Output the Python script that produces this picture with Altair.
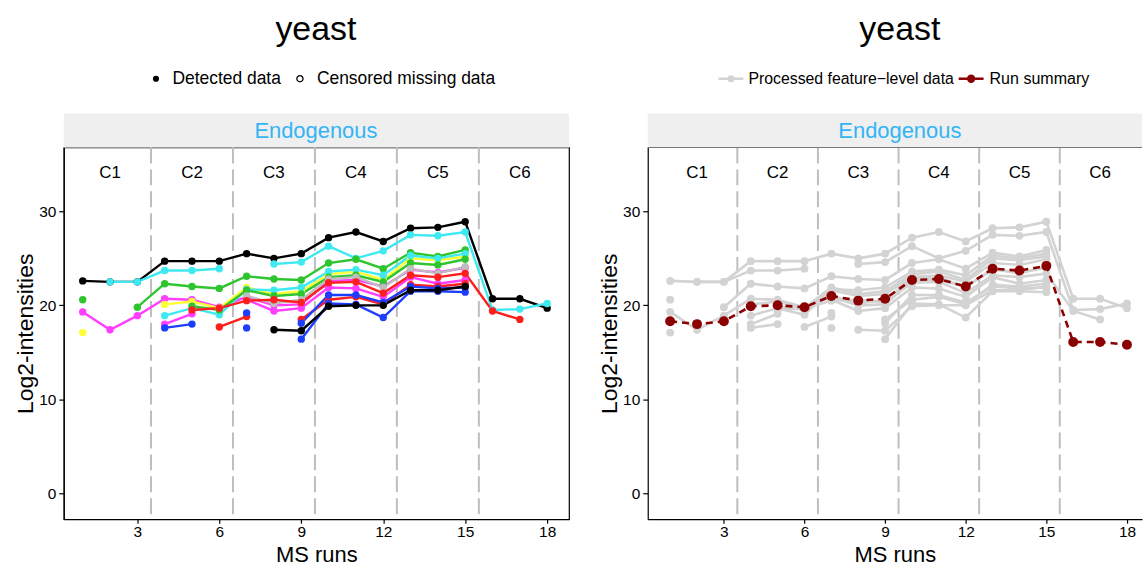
import altair as alt
import pandas as pd

FONT = "Liberation Sans"
N = None
runs = list(range(1, 19))

# feature-level log2 intensities per run (None = not observed)
f_black1 = [22.6, 22.5, 22.5, 24.7, 24.7, 24.7, 25.5, 25.0, 25.5, 27.2, 27.8, 26.8, 28.2, 28.3, 28.9, 20.7, 20.7, 19.7]
f_cyan1 = [N, 22.5, 22.5, 23.7, 23.7, 23.9, N, 24.4, 24.6, 26.3, 25.0, 25.8, 27.5, 27.4, 27.8, 19.5, 19.6, 20.2]
f_green1 = [20.6, N, 19.8, 22.3, 22.0, 21.8, 23.1, 22.8, 22.7, 24.5, 24.9, 23.9, 25.6, 25.2, 25.9, N, N, N]
f_magenta1 = [19.3, 17.4, 18.9, 20.7, 20.6, 19.8, 20.9, 20.0, 20.1, 22.6, 22.7, 22.0, 23.8, 23.5, 24.0, N, N, N]
f_yellow1 = [17.1, N, N, 20.1, 20.4, 19.7, 21.9, 21.2, 21.5, 23.3, 23.6, 22.7, 25.0, 24.8, 25.2, N, N, N]
f_cyan2 = [N, N, N, 18.9, 19.7, 19.0, 21.7, 21.6, 21.9, 23.6, 23.8, 23.2, 25.3, 25.0, 25.5, N, N, N]
f_magenta2 = [N, N, N, 18.0, 19.1, N, 20.6, 19.4, 19.7, 21.9, 21.8, 20.9, 23.0, 22.3, 22.7, N, N, N]
f_green2 = [N, N, N, N, 19.9, 19.5, 21.6, 21.0, 21.2, 23.0, 23.2, 22.5, 24.5, 24.3, 24.9, N, N, N]
f_grey1 = [N, N, N, N, N, N, 21.0, 20.2, 20.6, 22.8, 23.0, 21.9, 23.9, 23.4, 24.1, N, N, N]
f_red1 = [N, N, N, N, 19.5, 19.7, 20.5, 20.6, 20.3, 22.4, 22.5, 21.3, 23.2, 23.0, 23.4, 19.4, 18.5, N]
f_red2 = [N, N, N, N, N, 17.7, 18.8, N, 18.5, 20.6, 20.9, 20.1, 22.2, 22.0, 22.3, N, N, N]
f_blue1 = [N, N, N, 17.6, 18.0, N, 19.2, N, 18.1, 21.1, 21.1, 20.3, 22.0, 21.8, 21.9, N, N, N]
f_blue2 = [N, N, N, N, N, N, 17.6, N, 16.4, 20.2, 20.1, 18.7, 21.5, 21.5, 21.4, N, N, N]
f_black2 = [N, N, N, N, N, N, N, 17.4, 17.3, 19.9, 20.0, 20.0, 21.6, 21.6, 22.0, N, N, N]

feature_names = ["F01", "F02", "F03", "F04", "F05", "F06", "F07", "F08", "F09", "F10", "F11", "F12", "F13", "F14"]
feature_series = [f_black1, f_cyan1, f_green1, f_magenta1, f_yellow1, f_cyan2, f_magenta2,
                  f_green2, f_grey1, f_red1, f_red2, f_blue1, f_blue2, f_black2]
feature_colors = ["#000000", "#3FE9F1", "#2FC52F", "#FF3EFF", "#FFFF33", "#3FE9F1", "#FF3EFF",
                  "#2FC52F", "#BEBEBE", "#FF1E1E", "#FF1E1E", "#1E3EFF", "#1E3EFF", "#000000"]

run_summary = [18.3, 18.0, 18.3, 19.9, 20.0, 19.8, 21.0, 20.5, 20.7, 22.7, 22.8, 22.0, 23.9, 23.7, 24.2, 16.1, 16.1, 15.8]

conditions = ["C1", "C2", "C3", "C4", "C5", "C6"]
condition_centers = [2, 5, 8, 11, 14, 17]
condition_bounds = [3.5, 6.5, 9.5, 12.5, 15.5]
x_ticks = [3, 6, 9, 12, 15, 18]
y_ticks = [0, 10, 20, 30]

rows = []
for name, vals in zip(feature_names, feature_series):
    seg, prev = 0, False
    for r, v in zip(runs, vals):
        if v is None:
            if prev:
                seg += 1
            prev = False
            continue
        rows.append({"feature": name, "seg": f"{name}_{seg}", "run": r, "value": v})
        prev = True
feat_df = pd.DataFrame(rows)
sum_df = pd.DataFrame({"run": runs, "value": run_summary})
cond_df = pd.DataFrame({"cond": conditions, "run": condition_centers})
bound_df = pd.DataFrame({"run": condition_bounds})

H = 373
YDOM = [-2.76, 36.8]


def txt(s, x, y, size, color="black", align="left", baseline="middle"):
    return alt.Chart(pd.DataFrame({"t": [s]})).mark_text(
        font=FONT, fontSize=size, color=color, align=align, baseline=baseline
    ).encode(text="t:N", x=alt.value(x), y=alt.value(y))


def one():
    return alt.Chart(pd.DataFrame({"t": [""]}))


def panel(W, xdom, kind):
    xs = alt.Scale(domain=xdom, nice=False, zero=False)
    ys = alt.Scale(domain=YDOM, nice=False, zero=False)
    ax = alt.Axis(values=x_ticks, title="MS runs", grid=False, tickSize=4, tickColor="black",
                  tickWidth=1.2, labelFontSize=15.5, labelColor="black", labelFont=FONT,
                  titleFont=FONT, titleFontSize=22, titleFontWeight="normal", titleColor="black",
                  titlePadding=5, labelPadding=1, domainColor="black", domainWidth=1.2)
    ay = alt.Axis(values=y_ticks, title="Log2-intensities", grid=False, tickSize=5, tickColor="black",
                  tickWidth=1.2, labelFontSize=15.5, labelColor="black", labelFont=FONT,
                  titleFont=FONT, titleFontSize=23, titleFontWeight="normal", titleColor="black",
                  titlePadding=1, labelPadding=3, domainColor="black", domainWidth=1.2)
    X = alt.X("run:Q", scale=xs, axis=ax)
    Y = alt.Y("value:Q", scale=ys, axis=ay)

    layers = []
    layers.append(alt.Chart(bound_df).mark_rule(color="#BEBEBE", strokeWidth=2, strokeDash=[16, 6]).encode(x=X))
    layers.append(alt.Chart(cond_df).mark_text(font=FONT, fontSize=17, color="black", baseline="middle").encode(
        x=X, y=alt.value(26), text="cond:N"))

    if kind == "left":
        col = alt.Color("feature:N", scale=alt.Scale(domain=feature_names, range=feature_colors), legend=None)
        layers.append(alt.Chart(feat_df).mark_line(strokeWidth=2.4).encode(x=X, y=Y, color=col, detail="seg:N"))
        layers.append(alt.Chart(feat_df).mark_circle(size=55, opacity=1).encode(x=X, y=Y, color=col))
        # legend
        layers.append(one().mark_point(shape="circle", filled=True, color="black", size=38, opacity=1).encode(
            x=alt.value(92.5), y=alt.value(-69)))
        layers.append(txt("Detected data", 109, -69, 17.5))
        layers.append(one().mark_point(shape="circle", filled=False, color="black", strokeWidth=1.3, size=38,
                                       opacity=1).encode(x=alt.value(237), y=alt.value(-69)))
        layers.append(txt("Censored missing data", 254, -69, 17.5))
    else:
        layers.append(alt.Chart(feat_df).mark_line(color="#D3D3D3", strokeWidth=2.6).encode(x=X, y=Y, detail="seg:N"))
        layers.append(alt.Chart(feat_df).mark_circle(color="#D3D3D3", size=62, opacity=1).encode(x=X, y=Y))
        layers.append(alt.Chart(sum_df).mark_line(color="#8B0000", strokeWidth=2.6, strokeDash=[7, 5]).encode(x=X, y=Y))
        layers.append(alt.Chart(sum_df).mark_circle(color="#8B0000", size=100, opacity=1).encode(x=X, y=Y))
        # legend
        layers.append(one().mark_rule(color="#D3D3D3", strokeWidth=2.5).encode(
            x=alt.value(71), x2=alt.value(96), y=alt.value(-69)))
        layers.append(one().mark_circle(color="#D3D3D3", size=50, opacity=1).encode(x=alt.value(83.5), y=alt.value(-69)))
        layers.append(txt("Processed feature\u2212level data", 101, -69, 15.9))
        layers.append(one().mark_rule(color="#8B0000", strokeWidth=2.5).encode(
            x=alt.value(312), x2=alt.value(337), y=alt.value(-69)))
        layers.append(one().mark_circle(color="#8B0000", size=70, opacity=1).encode(x=alt.value(324.5), y=alt.value(-69)))
        layers.append(txt("Run summary", 343, -69, 16.1))
        layers.append(one().mark_rule(color="black", strokeWidth=1.2).encode(
            x=alt.value(0), x2=alt.value(W), y=alt.value(0)))

    # strip + title
    layers.append(one().mark_rect(color="#EFEFEF").encode(
        x=alt.value(0), x2=alt.value(W), y=alt.value(-34), y2=alt.value(0)))
    layers.append(txt("Endogenous", 253, -17, 22, color="#33B5F5", align="center"))
    layers.append(txt("yeast", 253, -108, 34, align="center", baseline="alphabetic"))

    view = alt.ViewBackground(stroke="black", strokeWidth=1.2) if kind == "left" else alt.ViewBackground(stroke="transparent")
    return alt.layer(*layers).properties(width=W, height=H, view=view)


left = panel(507, [0.307, 18.8], "left")
right = panel(496, [0.166, 18.56], "right")

chart = alt.hconcat(left, right, spacing=28).resolve_scale(
    x="independent", y="independent", color="independent"
).properties(
    padding={"left": 14, "top": 11, "right": 0, "bottom": 0},
    background="white",
)

chart.save("out.html", embed_options={"renderer": "svg", "actions": False})
